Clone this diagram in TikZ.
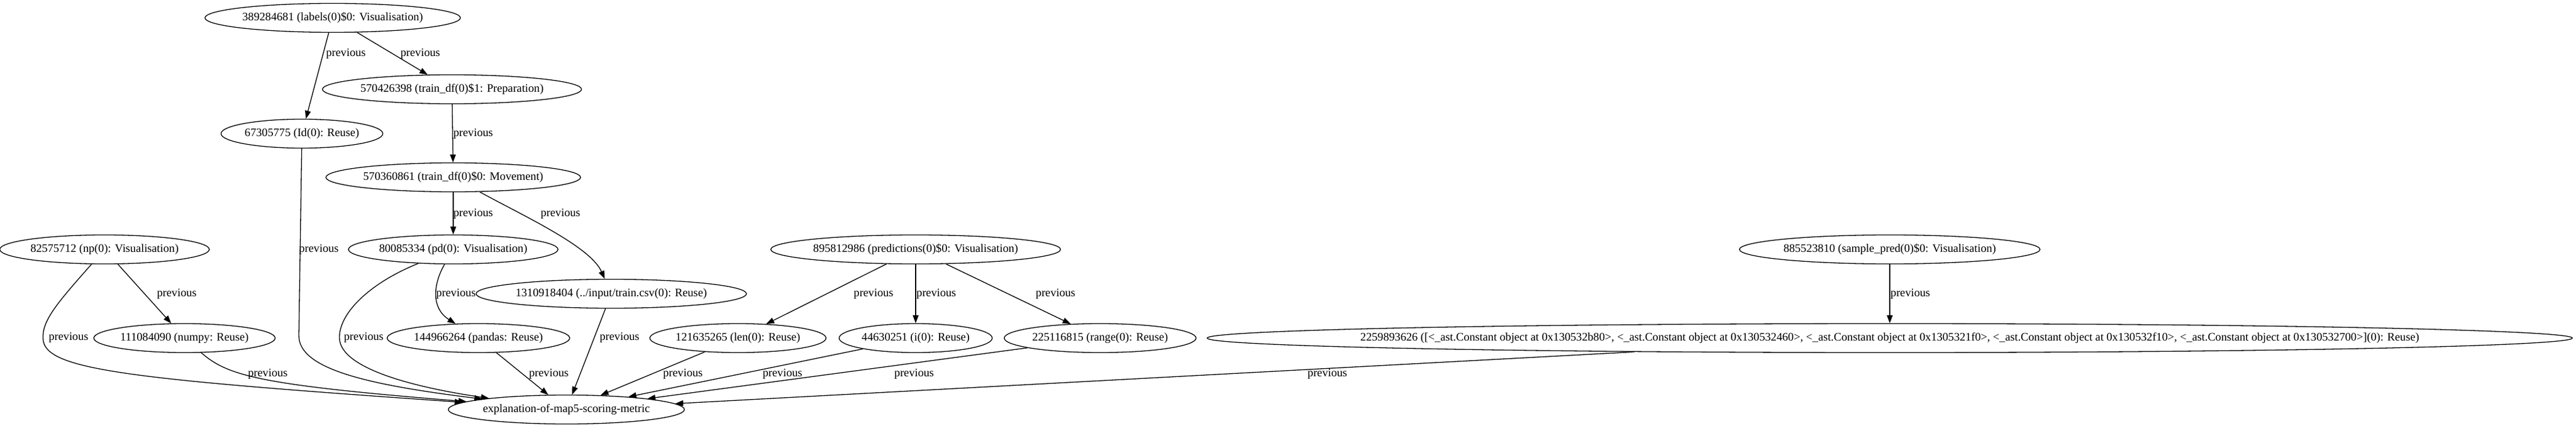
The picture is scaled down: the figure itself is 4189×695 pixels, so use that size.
\documentclass[tikz,border=0pt]{standalone}
\usepackage{fontspec}
\setmainfont{Liberation Serif}
\usetikzlibrary{shapes.geometric,arrows.meta}
\begin{document}
\begin{tikzpicture}[x=0.5pt,y=-0.5pt,
  nd/.style={ellipse,draw,line width=0.65pt,inner sep=0pt,minimum height=23.5pt,font=\fontsize{9.33}{11}\selectfont},
  edge/.style={draw,line width=0.65pt,-{Triangle[length=6.5pt,width=4.7pt]}},
  lbl/.style={anchor=west,inner sep=0pt,font=\fontsize{9.33}{11}\selectfont}]
\useasboundingbox (0,0) rectangle (4189,695);
% nodes
\node[nd,minimum width=199pt]   (labels) at (541,29)  {389284681 (labels(0)\$0: Visualisation)};
\node[nd,minimum width=200.5pt] (prep)   at (735,145) {570426398 (train\_df(0)\$1: Preparation)};
\node[nd,minimum width=131pt]   (Id)     at (491,217) {67305775 (Id(0): Reuse)};
\node[nd,minimum width=199pt]   (move)   at (737,288) {570360861 (train\_df(0)\$0: Movement)};
\node[nd,minimum width=165pt]   (np)     at (170,405) {82575712 (np(0): Visualisation)};
\node[nd,minimum width=165.5pt] (pd)     at (737,405) {80085334 (pd(0): Visualisation)};
\node[nd,minimum width=224pt]   (pred)   at (1489,405) {895812986 (predictions(0)\$0: Visualisation)};
\node[nd,minimum width=230.5pt] (sample) at (3073,405) {885523810 (sample\_pred(0)\$0: Visualisation)};
\node[nd,minimum width=209.5pt] (csv)    at (994,477) {1310918404 (../input/train.csv(0): Reuse)};
\node[nd,minimum width=146.5pt] (numpy)  at (300,549) {111084090 (numpy: Reuse)};
\node[nd,minimum width=144.5pt] (pandas) at (778,549) {144966264 (pandas: Reuse)};
\node[nd,minimum width=141pt]   (len)    at (1200,549) {121635265 (len(0): Reuse)};
\node[nd,minimum width=124.5pt] (i)      at (1489,549) {44630251 (i(0): Reuse)};
\node[nd,minimum width=153pt]   (range)  at (1789,549) {225116815 (range(0): Reuse)};
\node[nd,minimum width=1110pt]  (big)    at (3073,549) {\makebox[0pt]{2259893626 ([<\_ast.Constant object at 0x130532b80>, <\_ast.Constant object at 0x130532460>, <\_ast.Constant object at 0x1305321f0>, <\_ast.Constant object at 0x130532f10>, <\_ast.Constant object at 0x130532700>](0): Reuse)}};
\node[nd,minimum width=186.5pt] (expl)   at (921,665) {explanation-of-map5-scoring-metric};
% edges
\draw[edge] (labels) -- (Id);
\draw[edge] (labels) -- (prep);
\draw[edge] (prep) -- (move);
\draw[edge] (move) -- (pd);
\draw[edge] (move) .. controls (850,350) and (960,400) .. (csv);
\draw[edge] (Id) -- (486,545) .. controls (486,600) and (600,625) .. (expl);
\draw[edge] (np) .. controls (95,490) and (68,520) .. (70,550) .. controls (72,600) and (200,615) .. (expl);
\draw[edge] (np) -- (numpy);
\draw[edge] (numpy) .. controls (370,610) and (420,625) .. (expl);
\draw[edge] (pd) .. controls (600,460) and (550,510) .. (552,550) .. controls (555,600) and (680,630) .. (expl);
\draw[edge] (pd) .. controls (705,460) and (700,500) .. (pandas);
\draw[edge] (pandas) -- (expl);
\draw[edge] (csv) -- (expl);
\draw[edge] (pred) -- (len);
\draw[edge] (pred) -- (i);
\draw[edge] (pred) -- (range);
\draw[edge] (len) -- (expl);
\draw[edge] (i) -- (expl);
\draw[edge] (range) -- (expl);
\draw[edge] (big) -- (expl);
\draw[edge] (sample) -- (big);
% edge labels
\node[lbl] (l1)  at (530,87)   {previous};
\node[lbl] (l2)  at (651,87)   {previous};
\node[lbl] (l3)  at (737,217)  {previous};
\node[lbl] (l4)  at (486,405)  {previous};
\node[lbl] (l5)  at (737,347)  {previous};
\node[lbl] (l6)  at (879,347)  {previous};
\node[lbl] (l7)  at (255,477)  {previous};
\node[lbl] (l8)  at (79,548)   {previous};
\node[lbl] (l9)  at (709,477)  {previous};
\node[lbl] (l10) at (559,548)  {previous};
\node[lbl] (l11) at (975,548)  {previous};
\node[lbl] (l12) at (403,607)  {previous};
\node[lbl] (l13) at (860,607)  {previous};
\node[lbl] (l14) at (1388,477) {previous};
\node[lbl] (l15) at (1490,477) {previous};
\node[lbl] (l16) at (1684,477) {previous};
\node[lbl] (l17) at (1078,607) {previous};
\node[lbl] (l18) at (1240,607) {previous};
\node[lbl] (l19) at (1454,607) {previous};
\node[lbl] (l20) at (3074,477) {previous};
\node[lbl] (l21) at (2126,607) {previous};
\end{tikzpicture}
\end{document}
